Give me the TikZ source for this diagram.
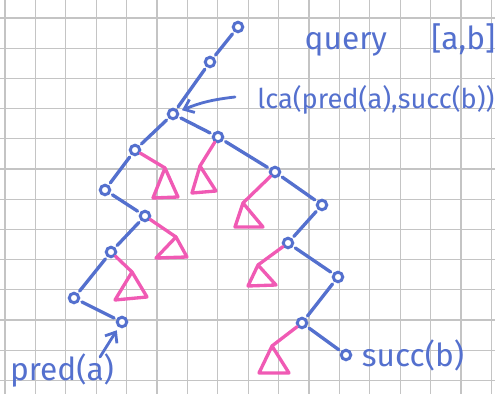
\documentclass[tikz,border=0pt]{standalone}
\usepackage{fontspec}
\setmainfont{Fira Sans}
\usepackage{xcolor}
\usetikzlibrary{arrows.meta, calc}

\definecolor{inkblue}{RGB}{84,112,206}
\definecolor{inkpink}{RGB}{240,90,180}
\definecolor{gridgray}{RGB}{196,196,196}

\begin{document}
\begin{tikzpicture}[
    x=0.02cm, y=-0.02cm,
    gridline/.style={draw=gridgray, line width=0.6pt},
    vertex/.style={draw=inkblue, circle, fill=white, line width=1.7pt, minimum size=0.19cm, inner sep=0pt},
    edge/.style={draw=inkblue, line width=1.9pt, line cap=round, shorten >=1.5pt, shorten <=1.5pt},
    sub/.style={draw=inkpink, line width=1.9pt, line join=round, line cap=round},
    note/.style={text=inkblue, font=\fontsize{18}{21}\selectfont, inner sep=0pt},
    pointer/.style={draw=inkblue, line width=1.6pt, line cap=round, -{Straight Barb[length=5pt,width=8pt]}, shorten >=2pt}
]

\useasboundingbox (0,0) rectangle (495,394);

% Squared paper
\foreach \gx in {0,...,16}
    \draw[gridline] ({5+30.4*\gx},0) -- ++(0,394);
\foreach \gy in {0,...,12}
    \draw[gridline] (0,{18+30.2*\gy}) -- ++(495,0);

% Top of the tree down to the lca
\node[vertex] (top) at (238,27) {};
\node[vertex] (up) at (210,62) {};
\node[vertex] (lca) at (173,114) {};

% Left search path (towards pred(a))
\node[vertex] (l1) at (135,150) {};
\node[vertex] (l2) at (105,190) {};
\node[vertex] (l3) at (145,216) {};
\node[vertex] (l4) at (111,252) {};
\node[vertex] (l5) at (74,298) {};
\node[vertex] (pred) at (122,322) {};

% Right search path (towards succ(b))
\node[vertex] (r1) at (218,137) {};
\node[vertex] (r2) at (275,172) {};
\node[vertex] (r3) at (322,205) {};
\node[vertex] (r4) at (288,243) {};
\node[vertex] (r5) at (338,277) {};
\node[vertex] (r6) at (302,323) {};
\node[vertex] (succ) at (346,355) {};

% Subtrees hanging between the two paths
\foreach \nm/\ax/\ay/\lx/\ly/\rx/\ry in {
    t1/165/168/153/198/178/197, t2/200/166/192/193/216/191,
    t3/243/203/235/227/263/227, t4/176/237/156/258/187/257,
    t5/132/272/115/300/147/297, t6/258/265/248/286/276/285,
    t7/272/346/259/373/289/373}{
    \coordinate (\nm) at (\ax,\ay);
    \draw[sub] (\nm) -- (\lx,\ly) -- (\rx,\ry) -- cycle;
}

% Labels
\node[note] (query) at (400,40) {query\hspace{1.4em}[a,b]};
\node[note, font=\fontsize{15.5}{19}\selectfont] (lcatext) at (376,100) {lca(pred(a),succ(b))};
\node[note] (predtext) at (62,371) {pred(a)};
\node[note] (succtext) at (413,355) {succ(b)};
\coordinate (lcatail) at (235,97);
\coordinate (predtail) at (100,357);

% Connections
\draw[edge] (top) -- (up);
\draw[edge] (up) -- (lca);
\draw[edge] (lca) -- (l1);
\draw[edge] (l1) -- (l2);
\draw[edge] (l2) -- (l3);
\draw[edge] (l3) -- (l4);
\draw[edge] (l4) -- (l5);
\draw[edge] (l5) -- (pred);
\draw[edge] (lca) -- (r1);
\draw[edge] (r1) -- (r2);
\draw[edge] (r2) -- (r3);
\draw[edge] (r3) -- (r4);
\draw[edge] (r4) -- (r5);
\draw[edge] (r5) -- (r6);
\draw[edge] (r6) -- (succ);

\draw[sub] (l1) -- (t1);
\draw[sub] (r1) -- (t2);
\draw[sub] (r2) -- (t3);
\draw[sub] (l3) -- (t4);
\draw[sub] (l4) -- (t5);
\draw[sub] (r4) -- (t6);
\draw[sub] (r6) -- (t7);

\draw[pointer] (lcatail) to[bend right=8] (lca);
\draw[pointer] (predtail) -- (pred);

\end{tikzpicture}
\end{document}
